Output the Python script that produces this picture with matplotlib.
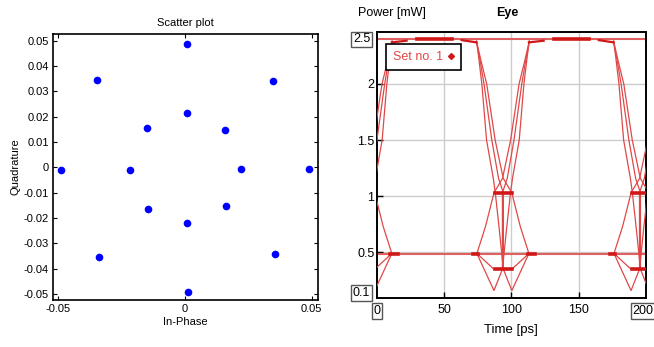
import matplotlib
matplotlib.use("Agg")
import matplotlib.pyplot as plt
from matplotlib.lines import Line2D

plt.rcParams['axes.unicode_minus'] = False

# ---- scatter plot data (constellation points) ----
in_phase = [0.0007, -0.0346, 0.0349, 0.0007, -0.0150, 0.0160, -0.0488, -0.0217,
            0.0220, 0.0490, -0.0147, 0.0163, 0.0009, -0.0338, 0.0357, 0.0012]
quadrature = [0.0486, 0.0343, 0.0341, 0.0216, 0.0154, 0.0149, -0.0010, -0.0009,
              -0.0008, -0.0007, -0.0163, -0.0151, -0.0221, -0.0355, -0.0341, -0.0492]
scatter_ticks_x = [-0.05, 0, 0.05]
scatter_ticks_y = [-0.05, -0.04, -0.03, -0.02, -0.01, 0, 0.01, 0.02, 0.03, 0.04, 0.05]

# ---- eye diagram data (one transition, repeated each bit period) ----
bit_offsets = [-102, 0, 102]
high_level = 2.40
low_level = 0.49
falling = [
    ([74, 75.5, 78, 81.5, 86.5, 88, 91, 94, 100.3, 113], [2.38, 2.25, 2.0, 1.5, 1.16, 1.03, 0.7, 0.35, 0.35, 0.49]),
    ([74, 76.5, 79.6, 85.4, 90.4, 94, 94, 100.3, 113], [2.38, 2.22, 2.0, 1.5, 1.16, 1.03, 0.35, 0.16, 0.49]),
    ([74, 77.5, 81.6, 87.9, 93.9, 100.3, 106.6, 113], [2.38, 2.2, 2.0, 1.5, 1.16, 1.03, 0.73, 0.49]),
]
rising = [
    ([74.3, 87, 93.3, 96.3, 99.3, 100.8, 105.8, 109.3, 111.8, 113.3], [0.49, 0.35, 0.35, 0.7, 1.03, 1.16, 1.5, 2.0, 2.25, 2.38]),
    ([74.3, 87, 93.3, 93.3, 96.9, 101.9, 107.7, 110.8, 113.3], [0.49, 0.16, 0.35, 1.03, 1.16, 1.5, 2.0, 2.22, 2.38]),
    ([74.3, 80.7, 87, 93.4, 99.4, 105.7, 109.8, 113.3], [0.49, 0.73, 1.03, 1.16, 1.5, 2.0, 2.2, 2.38]),
]
steps_top = [([63, 74], [2.39, 2.37]), ([113, 124], [2.37, 2.385])]
thick_top = [([132, 158], [2.40, 2.40])]
thick_low = [([71.4, 75.2], [0.49, 0.49]), ([112, 117.5], [0.49, 0.49]),
             ([88, 100.3], [0.35, 0.35]), ([88, 100.3], [1.03, 1.03])]

RED_THIN = '#e04848'
RED_THICK = '#d01818'
sans = ['Liberation Sans', 'DejaVu Sans']

fig = plt.figure(figsize=(6.54, 3.47), dpi=100)

# ---------------- left: scatter ----------------
ax1 = fig.add_axes([0.081, 0.135, 0.405, 0.767])
ax1.plot(in_phase, quadrature, 'o', color='#0000ff', markersize=5.5, markeredgewidth=0)
ax1.set_xlim(-0.052, 0.0524)
ax1.set_ylim(-0.0524, 0.0526)
ax1.set_xticks(scatter_ticks_x)
ax1.set_yticks(scatter_ticks_y)
ax1.set_xticklabels(['%g' % v for v in scatter_ticks_x], family=sans, fontsize=8)
ax1.set_yticklabels(['%g' % v for v in scatter_ticks_y], family=sans, fontsize=8)
ax1.tick_params(direction='in', top=True, right=True, length=3, width=0.8, pad=3)
ax1.set_title('Scatter plot', family=sans, fontsize=8, pad=6)
ax1.set_xlabel('In-Phase', family=sans, fontsize=8, labelpad=2)
ax1.set_ylabel('Quadrature', family=sans, fontsize=8, labelpad=2)
for s in ax1.spines.values():
    s.set_linewidth(1.2)

# ---------------- right: eye ----------------
ax2 = fig.add_axes([0.5765, 0.140, 0.411, 0.767])
ax2.axhline(high_level, color='#e06060', lw=1.5, zorder=2)
ax2.axhline(low_level, color='#e06060', lw=1.5, zorder=2)
for off in bit_offsets:
    for t, p in falling + rising:
        ax2.plot([v + off for v in t], p, color=RED_THIN, lw=0.9, zorder=3)
    for t, p in steps_top:
        ax2.plot([v + off for v in t], p, color=RED_THICK, lw=1.6, zorder=3)
    for t, p in thick_top + thick_low:
        ax2.plot([v + off for v in t], p, color=RED_THICK, lw=2.6, zorder=3)

ax2.set_xlim(0, 200)
ax2.set_ylim(0.09, 2.46)
ax2.set_xticks([50, 100, 150])
ax2.set_yticks([0.5, 1, 1.5, 2])
ax2.set_xticklabels(['50', '100', '150'], family=sans, fontsize=9)
ax2.set_yticklabels(['0.5', '1', '1.5', '2'], family=sans, fontsize=9)
ax2.tick_params(direction='in', length=4, width=1, pad=4)
ax2.tick_params(axis='y', pad=2)
ax2.grid(True, color='#cccccc', lw=1)
ax2.set_axisbelow(True)
for s in ax2.spines.values():
    s.set_linewidth(1.4)

box = dict(boxstyle='square,pad=0.15', fc='white', ec='#555555', lw=1)
ax2.text(0.0, -0.048, '0', transform=ax2.transAxes, ha='center', va='center',
         family=sans, fontsize=9, bbox=box)
ax2.text(0.99, -0.048, '200', transform=ax2.transAxes, ha='center', va='center',
         family=sans, fontsize=9, bbox=box)
ax2.text(-0.058, 0.973, '2.5', transform=ax2.transAxes, ha='center', va='center',
         family=sans, fontsize=9, bbox=box)
ax2.text(-0.058, 0.02, '0.1', transform=ax2.transAxes, ha='center', va='center',
         family=sans, fontsize=9, bbox=box)

fig.text(0.547, 0.962, 'Power [mW]', family=sans, fontsize=9, ha='left', va='center')
fig.text(0.775, 0.962, 'Eye', family=sans, fontsize=9, fontweight='bold', ha='center', va='center')
ax2.set_xlabel('Time [ps]', family=sans, fontsize=9.5, labelpad=6)

handle = Line2D([], [], color=RED_THICK, marker='D', ls='none', markersize=3)
leg = ax2.legend([handle], ['Set no. 1'], loc='upper left', bbox_to_anchor=(0.034, 0.955),
                 markerfirst=False, fancybox=False, framealpha=1, edgecolor='black',
                 handlelength=0.5, handletextpad=0.4, borderpad=0.55, borderaxespad=0,
                 prop={'family': sans, 'size': 9}, labelcolor=RED_THIN)
leg.get_frame().set_linewidth(1.2)

fig.savefig('out.png', dpi=100)
